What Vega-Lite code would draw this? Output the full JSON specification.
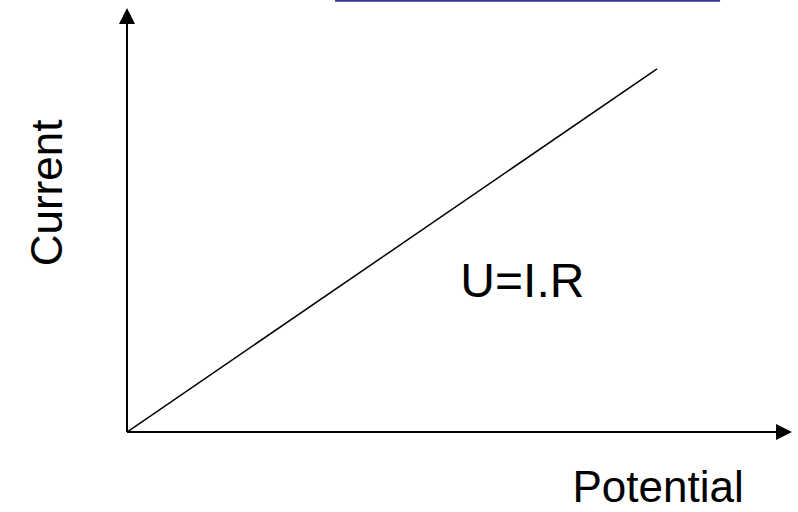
{
  "$schema": "https://vega.github.io/schema/vega-lite/v6.json",
  "width": 798,
  "height": 512,
  "padding": 0,
  "autosize": {"type": "none"},
  "background": "white",
  "config": {"view": {"stroke": null}, "font": "Liberation Sans"},
  "datasets": {
    "axes": [
      {"name": "potential axis", "x": 0, "y": 0, "x2": 12.3, "y2": 0},
      {"name": "current axis", "x": 0, "y": 0, "x2": 0, "y2": 7.75}
    ],
    "law": [
      {"potential": 0, "current": 0},
      {"potential": 10, "current": 6.85}
    ],
    "link": [
      {"x": 3.925, "y": 8.135, "x2": 11.19}
    ],
    "arrowsUp": [{"x": 0, "y": 7.85}],
    "arrowsRight": [{"x": 12.396, "y": 0}],
    "labels": [
      {"text": "U=I.R", "x": 7.46, "y": 2.55}
    ],
    "xlabel": [{"text": "Potential", "x": 10.02, "y": -1.32}],
    "ylabel": [{"text": "Current", "x": -1.226, "y": 4.51}]
  },
  "layer": [
    {
      "data": {"name": "axes"},
      "mark": {"type": "rule", "color": "black", "strokeWidth": 2},
      "encoding": {
        "x": {"field": "x", "type": "quantitative", "scale": {"domain": [-2.396, 12.66], "nice": false, "zero": false}, "axis": null},
        "y": {"field": "y", "type": "quantitative", "scale": {"domain": [-1.509, 8.151], "nice": false, "zero": false}, "axis": null},
        "x2": {"field": "x2"},
        "y2": {"field": "y2"}
      }
    },
    {
      "data": {"name": "law"},
      "mark": {"type": "line", "color": "black", "strokeWidth": 1.5},
      "encoding": {
        "x": {"field": "potential", "type": "quantitative"},
        "y": {"field": "current", "type": "quantitative"}
      }
    },
    {
      "data": {"name": "link"},
      "mark": {"type": "rule", "color": "#333399", "strokeWidth": 2},
      "encoding": {
        "x": {"field": "x", "type": "quantitative"},
        "x2": {"field": "x2"},
        "y": {"field": "y", "type": "quantitative"}
      }
    },
    {
      "data": {"name": "arrowsUp"},
      "mark": {"type": "point", "shape": "M-1,1L1,1L0,-1Z", "filled": true, "color": "black", "size": 256, "opacity": 1},
      "encoding": {
        "x": {"field": "x", "type": "quantitative"},
        "y": {"field": "y", "type": "quantitative"}
      }
    },
    {
      "data": {"name": "arrowsRight"},
      "mark": {"type": "point", "shape": "M-1,-1L1,0L-1,1Z", "filled": true, "color": "black", "size": 256, "opacity": 1},
      "encoding": {
        "x": {"field": "x", "type": "quantitative"},
        "y": {"field": "y", "type": "quantitative"}
      }
    },
    {
      "data": {"name": "labels"},
      "mark": {"type": "text", "fontSize": 48, "align": "center", "baseline": "alphabetic", "color": "black"},
      "encoding": {
        "x": {"field": "x", "type": "quantitative"},
        "y": {"field": "y", "type": "quantitative"},
        "text": {"field": "text"}
      }
    },
    {
      "data": {"name": "xlabel"},
      "mark": {"type": "text", "fontSize": 44, "align": "center", "baseline": "alphabetic", "color": "black"},
      "encoding": {
        "x": {"field": "x", "type": "quantitative"},
        "y": {"field": "y", "type": "quantitative"},
        "text": {"field": "text"}
      }
    },
    {
      "data": {"name": "ylabel"},
      "mark": {"type": "text", "fontSize": 44, "align": "center", "baseline": "alphabetic", "angle": 270, "color": "black"},
      "encoding": {
        "x": {"field": "x", "type": "quantitative"},
        "y": {"field": "y", "type": "quantitative"},
        "text": {"field": "text"}
      }
    }
  ]
}
